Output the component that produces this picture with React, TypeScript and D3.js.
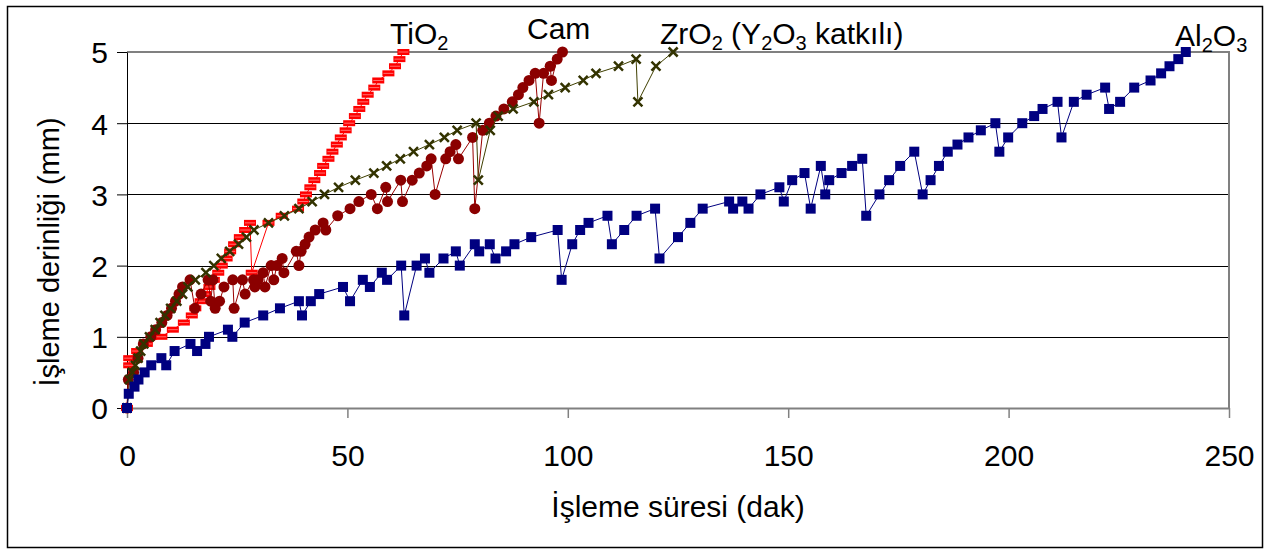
import React from 'react';
import * as d3 from 'd3';

// time (dak) , depth (mm) pairs
const tio2 = [
  [0, 0], [0.5, 0.6], [0.5, 0.7], [2.3, 0.8], [4.5, 0.9], [7.8, 1.0], [10.4, 1.1], [12.9, 1.2],
  [14.7, 1.3], [15.5, 1.4], [16.7, 1.5], [17.7, 1.6], [18.7, 1.7], [19.7, 1.8], [20.7, 1.9],
  [21.5, 2.0], [22.6, 2.1], [23.4, 2.2], [24.3, 2.3], [25.6, 2.4], [26.8, 2.5], [27.9, 2.6],
  [28.3, 1.9], [32.1, 2.6], [35.1, 2.7], [38.8, 2.8], [40.0, 2.9], [40.6, 3.0], [41.6, 3.1],
  [42.5, 3.2], [43.8, 3.3], [44.5, 3.4], [45.7, 3.5], [46.6, 3.6], [47.6, 3.7], [48.5, 3.8],
  [49.6, 3.9], [50.4, 4.0], [51.7, 4.1], [52.7, 4.2], [53.6, 4.3], [54.6, 4.4], [56.1, 4.5],
  [57.0, 4.6], [59.3, 4.7], [60.8, 4.8], [61.8, 4.9], [62.7, 5.0],
];

const cam = [
  [0, 0], [0.3, 0.4], [1.5, 0.5], [2.5, 0.7], [3.7, 0.9], [5.4, 1.0], [6.5, 1.1], [7.9, 1.2],
  [9.1, 1.3], [10.1, 1.4], [11.0, 1.5], [11.8, 1.6], [12.6, 1.7], [14.3, 1.8], [15.4, 1.4],
  [16.8, 1.6], [18.4, 1.8], [19.0, 1.5], [19.5, 1.8], [20.0, 1.4], [21.0, 1.5], [22.0, 1.7],
  [24.0, 1.8], [24.3, 1.4], [26.2, 1.8], [26.8, 1.6], [28.7, 1.8], [29.0, 1.7], [29.7, 1.8],
  [30.9, 1.9], [31.3, 1.7], [32.7, 2.0], [33.3, 1.8], [34.0, 2.0], [35.2, 2.1], [35.6, 1.9],
  [38.4, 2.2], [39.0, 2.0], [39.5, 2.2], [40.4, 2.3], [41.3, 2.4], [42.7, 2.5], [44.5, 2.6],
  [45.1, 2.5], [47.8, 2.7], [50.6, 2.8], [52.6, 2.9], [55.4, 3.0], [56.8, 2.8], [58.7, 3.1],
  [59.1, 2.9], [62.1, 3.2], [62.5, 2.9], [64.7, 3.2], [66.3, 3.3], [68.0, 3.4], [69.0, 3.5],
  [69.9, 3.0], [72.3, 3.5], [73.3, 3.6], [74.6, 3.7], [75.2, 3.5], [78.4, 3.8], [78.9, 2.8],
  [80.7, 3.9], [82.2, 4.0], [83.7, 4.1], [85.5, 4.2], [87.4, 4.3], [88.8, 4.4], [89.8, 4.5],
  [91.2, 4.6], [92.6, 4.7], [93.5, 4.0], [94.5, 4.7], [96.0, 4.8], [96.3, 4.6], [97.6, 4.9],
  [98.8, 5.0],
];

const zro2 = [
  [0, 0], [0.6, 0.4], [1.2, 0.5], [1.9, 0.6], [2.5, 0.7], [3.1, 0.8], [3.8, 0.9], [5.1, 1.0],
  [6.4, 1.1], [7.5, 1.2], [8.6, 1.3], [9.9, 1.4], [11.3, 1.5], [12.6, 1.6], [13.8, 1.7],
  [15.5, 1.8], [17.9, 1.9], [19.7, 2.0], [21.4, 2.1], [23.3, 2.2], [25.3, 2.3], [27.1, 2.4],
  [28.8, 2.5], [32.1, 2.6], [35.7, 2.7], [39.0, 2.8], [42.0, 2.9], [44.8, 3.0], [48.0, 3.1],
  [51.8, 3.2], [56.0, 3.3], [58.9, 3.4], [62.0, 3.5], [65.0, 3.6], [68.6, 3.7], [72.0, 3.8],
  [74.9, 3.9], [79.2, 4.0], [79.7, 3.2], [82.4, 3.9], [84.2, 4.1], [87.6, 4.2], [92.3, 4.3],
  [95.6, 4.4], [99.4, 4.5], [103.5, 4.6], [106.4, 4.7], [111.5, 4.8], [115.5, 4.9],
  [115.9, 4.3], [120.0, 4.8], [123.9, 5.0],
];

const al2o3 = [
  [0, 0], [0.4, 0.2], [1.7, 0.3], [2.6, 0.4], [4.0, 0.5], [5.5, 0.6], [7.8, 0.7], [8.9, 0.6],
  [10.8, 0.8], [14.4, 0.9], [15.9, 0.8], [17.8, 0.9], [18.6, 1.0], [22.9, 1.1], [23.9, 1.0],
  [26.7, 1.2], [30.9, 1.3], [34.7, 1.4], [39.0, 1.5], [39.7, 1.3], [41.7, 1.5], [43.6, 1.6],
  [49.0, 1.7], [50.6, 1.5], [53.5, 1.8], [55.1, 1.7], [57.8, 1.9], [59.0, 1.8], [62.2, 2.0],
  [62.9, 1.3], [65.7, 2.0], [67.6, 2.1], [68.6, 1.9], [71.8, 2.1], [74.6, 2.2], [75.5, 2.0],
  [78.9, 2.3], [79.9, 2.2], [82.3, 2.3], [83.6, 2.1], [86.0, 2.2], [87.9, 2.3], [91.7, 2.4],
  [97.7, 2.5], [98.6, 1.8], [101.0, 2.3], [102.8, 2.5], [104.7, 2.6], [109.0, 2.7], [110.0, 2.3],
  [112.8, 2.5], [115.6, 2.7], [119.8, 2.8], [120.8, 2.1], [125.0, 2.4], [127.8, 2.6],
  [130.6, 2.8], [136.6, 2.9], [137.5, 2.8], [139.6, 2.9], [141.0, 2.8], [143.7, 3.0],
  [148.0, 3.1], [149.0, 2.9], [150.9, 3.2], [153.7, 3.3], [155.1, 2.8], [157.4, 3.4],
  [158.4, 3.0], [159.3, 3.2], [162.1, 3.3], [164.5, 3.4], [166.8, 3.5], [167.7, 2.7],
  [170.7, 3.0], [172.9, 3.2], [175.4, 3.4], [178.6, 3.6], [180.5, 3.0], [182.3, 3.2],
  [184.2, 3.4], [186.2, 3.6], [188.4, 3.7], [190.9, 3.8], [193.7, 3.9], [197.0, 4.0],
  [197.9, 3.6], [199.9, 3.8], [203.1, 4.0], [205.8, 4.1], [207.7, 4.2], [211.1, 4.3],
  [212.0, 3.8], [214.8, 4.3], [217.7, 4.4], [221.9, 4.5], [222.8, 4.2], [225.3, 4.3],
  [228.5, 4.5], [232.2, 4.6], [234.6, 4.7], [236.5, 4.8], [238.5, 4.9], [240.2, 5.0],
];

const xTicks = [0, 50, 100, 150, 200, 250];
const yTicks = [0, 1, 2, 3, 4, 5];

const W = 1269, H = 553;
const font = '"Liberation Sans", Arial, sans-serif';

export default function App() {
  const ref = React.useRef<SVGSVGElement>(null);

  React.useEffect(() => {
    const svg = d3.select(ref.current);
    svg.selectAll('*').remove();

    const x = d3.scaleLinear([0, 250], [127, 1229]);
    const y = d3.scaleLinear([0, 5], [408, 52]);

    svg.append('rect').attr('x', 0).attr('y', 0).attr('width', W).attr('height', H).attr('fill', '#fff');
    svg.append('rect')
      .attr('x', 7.5).attr('y', 6.5).attr('width', 1255).attr('height', 541)
      .attr('fill', 'none').attr('stroke', '#000').attr('stroke-width', 1.5);

    // grid
    svg.append('g').selectAll('line').data(yTicks.slice(1, 5)).join('line')
      .attr('x1', x(0)).attr('x2', x(250))
      .attr('y1', d => Math.round(y(d)) + 0.5).attr('y2', d => Math.round(y(d)) + 0.5)
      .attr('stroke', '#000').attr('stroke-width', 1);
    // plot border top/right
    svg.append('path')
      .attr('d', `M${x(0)},${y(5)}H${x(250)}V${y(0)}`)
      .attr('fill', 'none').attr('stroke', '#808080').attr('stroke-width', 2);

    // x axis
    const xAxis = svg.append('g').attr('transform', `translate(0,${y(0)})`)
      .call(d3.axisBottom(x).tickValues(xTicks).tickSize(10).tickSizeOuter(0).tickFormat(d3.format('d')));
    xAxis.select('.domain').attr('stroke', '#808080').attr('stroke-width', 2);
    xAxis.selectAll('.tick line').attr('stroke', '#808080').attr('stroke-width', 1.5);
    xAxis.selectAll('.tick text').attr('font-family', font).attr('font-size', 30)
      .attr('fill', '#000').attr('dy', null).attr('y', 58);

    // y axis
    const yAxis = svg.append('g').attr('transform', `translate(${x(0)},0)`)
      .call(d3.axisLeft(y).tickValues(yTicks).tickSize(10).tickSizeOuter(0).tickFormat(d3.format('d')));
    yAxis.select('.domain').attr('stroke', '#000').attr('stroke-width', 1);
    yAxis.selectAll('.tick line').attr('stroke', '#000');
    yAxis.selectAll('.tick text').attr('font-family', font).attr('font-size', 30)
      .attr('fill', '#000').attr('x', -19).attr('dy', '0.36em');

    // titles
    svg.append('text').attr('x', 678).attr('y', 517).attr('text-anchor', 'middle')
      .attr('font-family', font).attr('font-size', 30).text('İşleme süresi (dak)');
    svg.append('text').attr('transform', 'translate(59,252) rotate(-90)').attr('text-anchor', 'middle')
      .attr('font-family', font).attr('font-size', 29).text('İşleme derinliği (mm)');

    const line = d3.line<number[]>().x(d => x(d[0])).y(d => y(d[1]));

    // TiO2
    svg.append('path').datum(tio2).attr('d', line).attr('fill', 'none').attr('stroke', '#ff0000').attr('stroke-width', 1);
    const tg = svg.append('g').selectAll('g').data(tio2).join('g')
      .attr('transform', d => `translate(${x(d[0])},${y(d[1])})`);
    tg.append('rect').attr('x', -6).attr('y', -3).attr('width', 12).attr('height', 6).attr('fill', '#ff0000');
    tg.append('line').attr('x1', -5).attr('x2', 5).attr('y1', 0).attr('y2', 0).attr('stroke', '#ff7070').attr('stroke-width', 1);

    // Cam
    svg.append('path').datum(cam).attr('d', line).attr('fill', 'none').attr('stroke', '#990000').attr('stroke-width', 1);
    svg.append('g').selectAll('circle').data(cam).join('circle')
      .attr('cx', d => x(d[0])).attr('cy', d => y(d[1])).attr('r', 5.5).attr('fill', '#8b0000');

    // ZrO2
    svg.append('path').datum(zro2).attr('d', line).attr('fill', 'none').attr('stroke', '#3f3f00').attr('stroke-width', 1);
    svg.append('g').selectAll('path').data(zro2).join('path')
      .attr('transform', d => `translate(${x(d[0])},${y(d[1])})`)
      .attr('d', 'M-4.5,-4.5L4.5,4.5M-4.5,4.5L4.5,-4.5')
      .attr('stroke', '#333300').attr('stroke-width', 2.5).attr('fill', 'none');

    // Al2O3
    svg.append('path').datum(al2o3).attr('d', line).attr('fill', 'none').attr('stroke', '#000080').attr('stroke-width', 1);
    svg.append('g').selectAll('rect').data(al2o3).join('rect')
      .attr('x', d => x(d[0]) - 5).attr('y', d => y(d[1]) - 5)
      .attr('width', 10).attr('height', 10).attr('fill', '#000080');

    // series labels, subscripts as tspans
    const addLabel = (px: number, py: number, parts: [string, boolean][]) => {
      const t = svg.append('text').attr('x', px).attr('y', py)
        .attr('font-family', font).attr('font-size', 30).attr('fill', '#000');
      let sub = false;
      parts.forEach(([s, isSub]) => {
        const ts = t.append('tspan').text(s);
        if (isSub && !sub) { ts.attr('font-size', 20).attr('dy', 6); sub = true; }
        else if (!isSub && sub) { ts.attr('dy', -6); sub = false; }
        else if (isSub) ts.attr('font-size', 20);
      });
    };
    addLabel(390, 44, [['TiO', false], ['2', true]]);
    addLabel(527, 39, [['Cam', false]]);
    addLabel(660, 44, [['ZrO', false], ['2', true], [' (Y', false], ['2', true], ['O', false], ['3', true], [' katkılı)', false]]);
    addLabel(1175, 46, [['Al', false], ['2', true], ['O', false], ['3', true]]);
  }, []);

  return (
    <svg ref={ref} width={W} height={H}
      style={{ position: 'absolute', left: 0, top: 0, display: 'block' }} />
  );
}
